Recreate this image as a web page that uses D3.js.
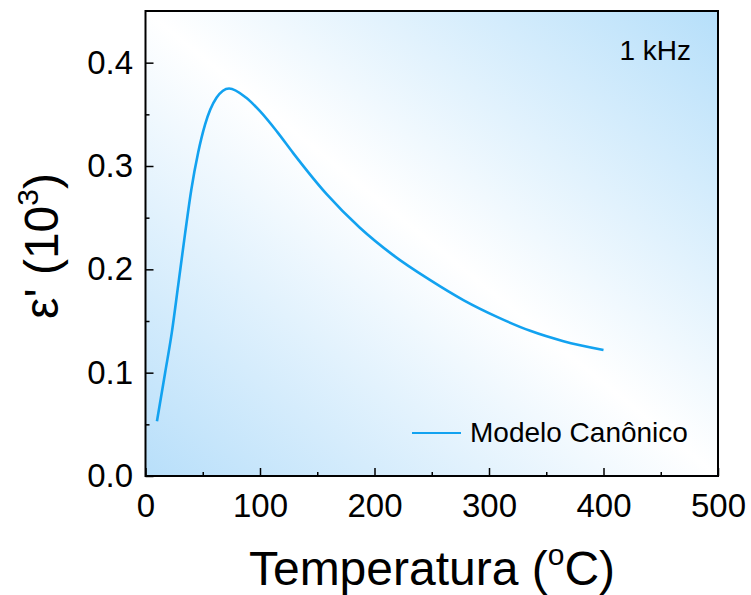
<!DOCTYPE html>
<html>
<head>
<meta charset="utf-8">
<script src="https://cdn.jsdelivr.net/npm/d3@7"></script>
<style>
  html, body { margin: 0; padding: 0; background: #ffffff; }
  svg { display: block; font-family: "Liberation Sans", Arial, sans-serif; }
</style>
</head>
<body>
<svg id="chart" width="751" height="595"></svg>
<script>
// Temperature (°C) and real permittivity (x10^3) of the canonical model at 1 kHz
const temperature = [10, 17, 23, 28.6, 34.5, 40, 46, 52, 62, 73, 88, 100, 115, 129, 158, 187, 216, 248, 278, 307, 336, 365, 400];
const permittivity = [0.053, 0.099, 0.139, 0.185, 0.234, 0.277, 0.313, 0.340, 0.366, 0.375, 0.366, 0.353, 0.333, 0.3125, 0.273, 0.2405, 0.214, 0.190, 0.170, 0.154, 0.1405, 0.1305, 0.122];
const xTicks = [0, 100, 200, 300, 400, 500];
const yTicks = [0.0, 0.1, 0.2, 0.3, 0.4];
const seriesName = "Modelo Canônico";
const frequencyLabel = "1 kHz";

const svg = d3.select("#chart");
const margin = { left: 145.5, right: 33, top: 11, bottom: 119 };
const W = 751, H = 595;
const innerW = W - margin.left - margin.right;
const innerH = H - margin.top - margin.bottom;

const x = d3.scaleLinear().domain([0, 500]).range([0, innerW]);
const y = d3.scaleLinear().domain([0, 0.45]).range([innerH, 0]);

// diagonal blue-white-blue background
const defs = svg.append("defs");
const grad = defs.append("linearGradient")
  .attr("id", "bg").attr("x1", 0).attr("y1", 1).attr("x2", 1).attr("y2", 0);
grad.append("stop").attr("offset", "0%").attr("stop-color", "#b8dffa");
grad.append("stop").attr("offset", "50%").attr("stop-color", "#ffffff");
grad.append("stop").attr("offset", "100%").attr("stop-color", "#b6dffa");

const g = svg.append("g").attr("transform", `translate(${margin.left},${margin.top})`);

g.append("rect").attr("width", innerW).attr("height", innerH).attr("fill", "url(#bg)");

// curve
const data = temperature.map((t, i) => ({ t, v: permittivity[i] }));
const line = d3.line().x(d => x(d.t)).y(d => y(d.v)).curve(d3.curveMonotoneX);
g.append("path").datum(data)
  .attr("d", line)
  .attr("fill", "none")
  .attr("stroke", "#12a2f0")
  .attr("stroke-width", 2.6)
  .attr("stroke-linecap", "butt");

// axes with inward ticks
const axisStyle = sel => {
  sel.select(".domain").remove();
  sel.selectAll(".tick line").attr("stroke", "#000").attr("stroke-width", 1.5);
  sel.selectAll("text").attr("font-size", 33).attr("fill", "#000")
    .attr("font-family", "'Liberation Sans', Arial, sans-serif");
};
const minorStyle = s => {
  s.select(".domain").remove();
  s.selectAll("line").attr("stroke", "#000").attr("stroke-width", 1.5);
};

const xMinor = d3.range(50, 500, 100);
const yMinor = d3.range(0.05, 0.45, 0.1);

const xAx = g.append("g").attr("transform", `translate(0,${innerH})`)
  .call(d3.axisBottom(x).tickValues(xTicks).tickFormat(d3.format("d")).tickSizeInner(-8).tickPadding(18));
axisStyle(xAx);
g.append("g").attr("transform", `translate(0,${innerH})`)
  .call(d3.axisBottom(x).tickValues(xMinor).tickFormat("").tickSizeInner(-4))
  .call(minorStyle);

const yAx = g.append("g")
  .call(d3.axisLeft(y).tickValues(yTicks).tickFormat(d3.format(".1f")).tickSizeInner(-8).tickPadding(12.5));
axisStyle(yAx);
g.append("g")
  .call(d3.axisLeft(y).tickValues(yMinor).tickFormat("").tickSizeInner(-4))
  .call(minorStyle);

// frame
g.append("rect").attr("width", innerW).attr("height", innerH)
  .attr("fill", "none").attr("stroke", "#000").attr("stroke-width", 2);

// annotations
g.append("text").attr("x", innerW - 27).attr("y", 49)
  .attr("text-anchor", "end").attr("font-size", 28).text(frequencyLabel);

const leg = g.append("g").attr("transform", `translate(${412 - margin.left},${433 - margin.top})`);
leg.append("line").attr("x1", 0).attr("x2", 49).attr("y1", 0).attr("y2", 0)
  .attr("stroke", "#12a2f0").attr("stroke-width", 2.2);
leg.append("text").attr("x", 58).attr("y", 9).attr("font-size", 28).text(seriesName);

// axis titles
const xt = svg.append("text").attr("x", 432).attr("y", 585)
  .attr("text-anchor", "middle").attr("font-size", 48);
xt.append("tspan").text("Temperatura (");
xt.append("tspan").attr("font-size", 30).attr("dy", -20).text("o");
xt.append("tspan").attr("dy", 20).text("C)");

const yt = svg.append("text").attr("transform", "translate(58,246) rotate(-90)")
  .attr("text-anchor", "middle").attr("font-size", 48);
yt.append("tspan").text("ε' (10");
yt.append("tspan").attr("font-size", 30).attr("dy", -20).text("3");
yt.append("tspan").attr("dy", 20).text(")");
</script>
</body>
</html>
